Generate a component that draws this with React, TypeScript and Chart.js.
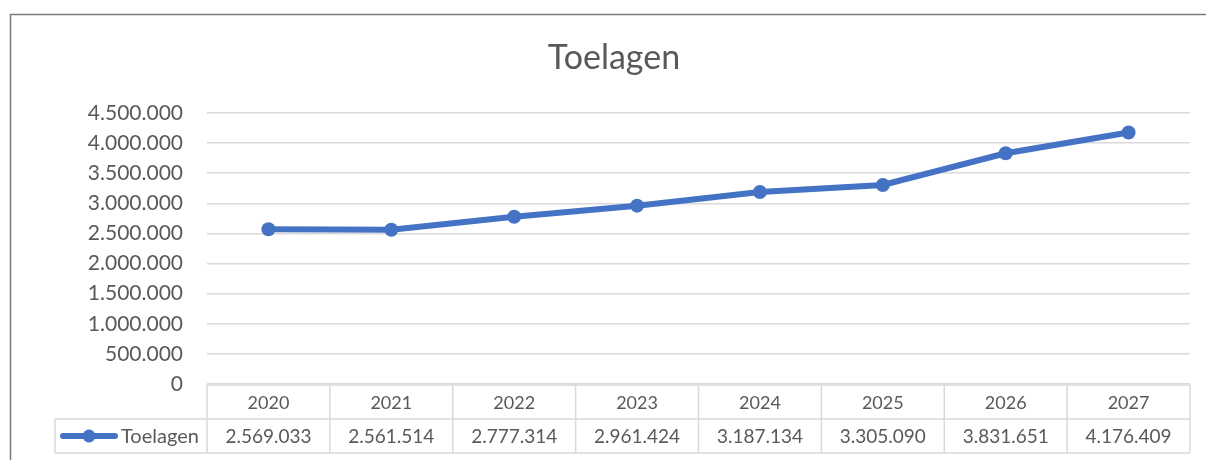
import React, { useEffect, useRef } from "react";
import { Chart, registerables } from "chart.js";

Chart.register(...registerables);

const categories = ["2020", "2021", "2022", "2023", "2024", "2025", "2026", "2027"];
const seriesName = "Toelagen";
const values = [2569033, 2561514, 2777314, 2961424, 3187134, 3305090, 3831651, 4176409];
const chartTitle = "Toelagen";
const yMin = 0;
const yMax = 4500000;
const yStep = 500000;

const TEXT = "#595959";
const GRID = "#d9d9d9";
const LINE = "#4472c4";
const FONT = "Lato, 'Open Sans', sans-serif";

function fmt(v: number): string {
  return String(Math.round(v)).replace(/\B(?=(\d{3})+(?!\d))/g, ".");
}

const framePlugin = {
  id: "frame",
  beforeDraw(chart: any) {
    const ctx = chart.ctx;
    ctx.save();
    ctx.strokeStyle = "#7a7a7a";
    ctx.lineWidth = 1.5;
    ctx.beginPath();
    ctx.moveTo(10.5, chart.height);
    ctx.lineTo(10.5, 14.5);
    ctx.lineTo(chart.width, 14.5);
    ctx.stroke();
    ctx.restore();
  },
};

const tablePlugin = {
  id: "dataTable",
  afterDraw(chart: any) {
    const ctx = chart.ctx;
    const x = chart.scales.x;
    const area = chart.chartArea;
    const n = categories.length;
    const w = (x.right - x.left) / n;
    const top = area.bottom + 1;
    const rowH = 34;
    const mid = top + rowH;
    const bot = top + 2 * rowH;
    const legendLeft = 55;
    ctx.save();
    ctx.strokeStyle = GRID;
    ctx.lineWidth = 1.5;
    ctx.beginPath();
    ctx.moveTo(x.left, top);
    ctx.lineTo(x.right, top);
    ctx.moveTo(legendLeft, mid);
    ctx.lineTo(x.right, mid);
    ctx.moveTo(legendLeft, bot);
    ctx.lineTo(x.right, bot);
    for (let i = 0; i <= n; i++) {
      const bx = x.left + i * w;
      ctx.moveTo(bx, top);
      ctx.lineTo(bx, bot);
    }
    ctx.moveTo(legendLeft, mid);
    ctx.lineTo(legendLeft, bot);
    ctx.stroke();

    ctx.fillStyle = TEXT;
    ctx.textAlign = "center";
    ctx.textBaseline = "middle";
    for (let i = 0; i < n; i++) {
      const cx = x.getPixelForValue(i);
      ctx.font = `18px ${FONT}`;
      ctx.fillText(categories[i], cx, top + rowH / 2 + 1);
      ctx.font = `19px ${FONT}`;
      ctx.fillText(fmt(values[i]), cx, mid + rowH / 2 + 1);
    }
    // legend key
    const ly = mid + rowH / 2;
    ctx.strokeStyle = LINE;
    ctx.lineWidth = 6;
    ctx.lineCap = "round";
    ctx.beginPath();
    ctx.moveTo(63, ly);
    ctx.lineTo(115, ly);
    ctx.stroke();
    ctx.fillStyle = LINE;
    ctx.beginPath();
    ctx.arc(89, ly, 6.5, 0, Math.PI * 2);
    ctx.fill();
    ctx.fillStyle = TEXT;
    ctx.textAlign = "left";
    ctx.font = `20px ${FONT}`;
    ctx.fillText(seriesName, 121, ly + 1);
    ctx.restore();
  },
};

export default function App() {
  const ref = useRef<HTMLCanvasElement | null>(null);
  useEffect(() => {
    document.body.style.margin = "0";
    const canvas = ref.current;
    if (!canvas) return;
    const chart = new Chart(canvas, {
      type: "line",
      data: {
        labels: categories,
        datasets: [
          {
            label: seriesName,
            data: values,
            borderColor: LINE,
            backgroundColor: LINE,
            borderWidth: 6,
            pointRadius: 7,
            pointBorderWidth: 0,
            pointBackgroundColor: LINE,
            tension: 0,
          },
        ],
      },
      options: {
        animation: false,
        responsive: true,
        maintainAspectRatio: false,
        layout: { padding: { left: 38, right: 16, top: 0, bottom: 76 } },
        plugins: {
          legend: { display: false },
          tooltip: { enabled: false },
          title: {
            display: true,
            text: chartTitle,
            color: TEXT,
            font: { family: FONT, size: 34, weight: "normal", lineHeight: 1.2 },
            padding: { top: 38, bottom: 34.2 },
          },
        },
        scales: {
          x: {
            type: "category",
            display: false,
            offset: true,
          },
          y: {
            min: yMin,
            max: yMax,
            border: { display: false },
            grid: { color: GRID, lineWidth: 1.5, drawTicks: false },
            afterFit: (scale: any) => {
              scale.width = 169;
            },
            ticks: {
              stepSize: yStep,
              padding: 24,
              color: TEXT,
              font: { family: FONT, size: 21 },
              callback: (v: any) => fmt(Number(v)),
            },
          },
        },
      },
      plugins: [framePlugin, tablePlugin],
    });
    return () => chart.destroy();
  }, []);
  return (
    <div style={{ position: "relative", width: 1206, height: 460 }}>
      <canvas ref={ref} />
    </div>
  );
}
